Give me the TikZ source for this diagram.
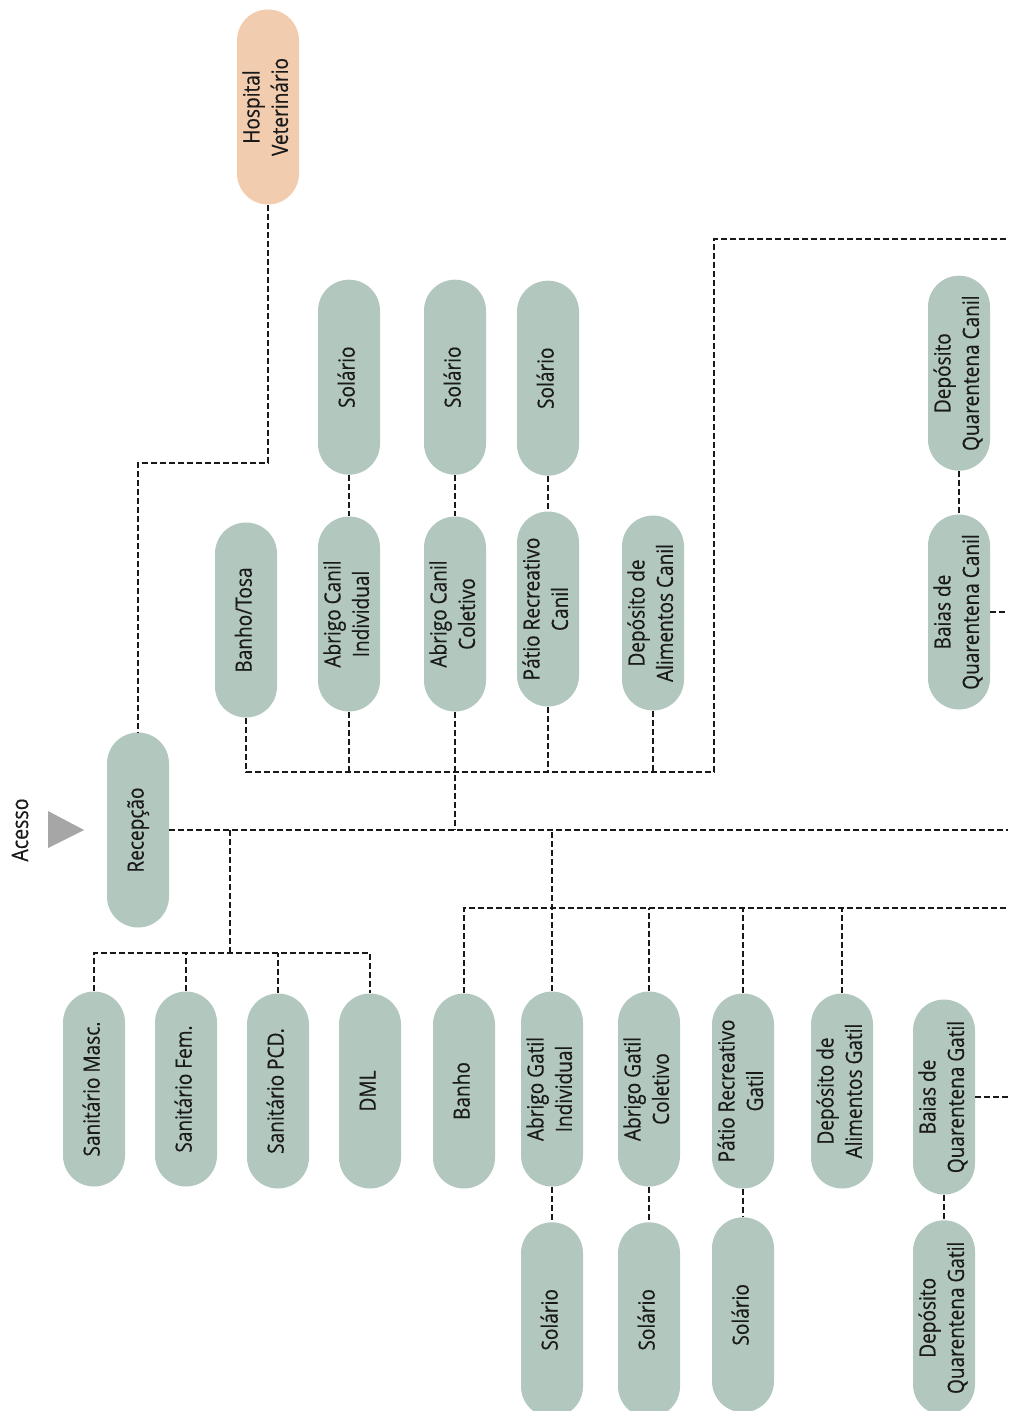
\documentclass[tikz,border=0pt]{standalone}
\usepackage{fontspec}
\usepackage{graphicx}
\usetikzlibrary{positioning}
\newfontfamily\roomfont{Open Sans}[FakeStretch=0.85,FakeBold=0.4]
\definecolor{sage}{HTML}{B2C7BE}
\definecolor{peach}{HTML}{F2CCAE}
\definecolor{ink}{HTML}{1A1A1A}
\definecolor{pointer}{HTML}{A6A6A6}
\newcommand{\roomtext}[1]{\rotatebox{90}{\begin{tabular}{@{}c@{}}#1\end{tabular}}}

\begin{document}
\begin{tikzpicture}[x=0.5pt,y=-0.5pt,
    room/.style={fill=sage,rounded corners=15.5pt,minimum width=31pt,
                 minimum height=97.5pt,inner sep=0pt,text=ink,
                 font=\roomfont\fontsize{11.2}{14.2}\selectfont},
    link/.style={draw=black!90,line width=0.75pt,dash pattern=on 3pt off 1.5pt}]
      \useasboundingbox (0,0) rectangle (1008,1411);
      % entrance
      \fill[pointer] (48,811) -- (84,830) -- (48,848) -- cycle;
      \node[rotate=90,text=ink,font=\roomfont\fontsize{11.5}{14}\selectfont] (acesso)
        at (20,830) {Acesso};
      \node[room] (recep) at (138,830) {\roomtext{Recepção}};
      \node[room,fill=peach] (hosp) at (268,107) {\roomtext{Hospital\\Veterinário}};
      % canil
      \node[room] (bt) at (246,620) {\roomtext{Banho/Tosa}};
      \node[room] (acind) at (349,614) {\roomtext{Abrigo Canil\\Individual}};
      \node[room] (accol) at (455,614) {\roomtext{Abrigo Canil\\Coletivo}};
      \node[room] (patc) at (548,609) {\roomtext{Pátio Recreativo\\Canil}};
      \node[room] (depc) at (653,613) {\roomtext{Depósito de\\Alimentos Canil}};
      \node[room,above=20.5pt of acind] (solc1) {\roomtext{Solário}};
      \node[room,above=20.5pt of accol] (solc2) {\roomtext{Solário}};
      \node[room,above=17.5pt of patc] (solc3) {\roomtext{Solário}};
      \node[room] (baiasqc) at (959,612) {\roomtext{Baias de\\Quarentena Canil}};
      \node[room,above=21.5pt of baiasqc] (depqc) {\roomtext{Depósito\\Quarentena Canil}};
      % sanitarios
      \node[room] (sanm) at (94,1089) {\roomtext{Sanitário Masc.}};
      \node[room] (sanf) at (186,1089) {\roomtext{Sanitário Fem.}};
      \node[room] (sanp) at (278,1091) {\roomtext{Sanitário PCD.}};
      \node[room] (dml) at (370,1091) {\roomtext{DML}};
      % gatil
      \node[room] (banho) at (464,1091) {\roomtext{Banho}};
      \node[room] (agind) at (552,1089) {\roomtext{Abrigo Gatil\\Individual}};
      \node[room] (agcol) at (649,1089) {\roomtext{Abrigo Gatil\\Coletivo}};
      \node[room] (patg) at (743,1091) {\roomtext{Pátio Recreativo\\Gatil}};
      \node[room] (depg) at (842,1091) {\roomtext{Depósito de\\Alimentos Gatil}};
      \node[room,below=17.5pt of agind] (solg1) {\roomtext{Solário}};
      \node[room,below=17.5pt of agcol] (solg2) {\roomtext{Solário}};
      \node[room,below=14pt of patg] (solg3) {\roomtext{Solário}};
      \node[room] (baiasqg) at (944,1097) {\roomtext{Baias de\\Quarentena Gatil}};
      \node[room,below=12.5pt of baiasqg] (depqg) {\roomtext{Depósito\\Quarentena Gatil}};
      % bus lines
      \coordinate (canilbus) at (0,772);
      \coordinate (gatilbus) at (0,908);
      \coordinate (sanfork) at (230,953);
      \coordinate (qcturn) at (714,772);
      \coordinate (qcend) at (1008,239);
      \coordinate (edge) at (1008,0);
      \draw[link] (hosp.south) -- ++(0,258) -| (recep.north);
      \draw[link] (recep.east) -- (recep.east -| edge);
      \draw[link] (sanfork |- recep.east) -- (sanfork);
      \draw[link] (sanm.north) |- (sanfork) -| (dml.north);
      \foreach \n in {sanf,sanp}
        \draw[link] (\n.north) -- (\n.north |- sanfork);
      \draw[link] (bt.south) |- (qcturn) |- (qcend);
      \foreach \n in {acind,patc,depc}
        \draw[link] (\n.south) -- (\n.south |- canilbus);
      \draw[link] (accol.south) -- (accol.south |- recep.east);
      \foreach \a/\b in {solc1/acind,solc2/accol,solc3/patc,depqc/baiasqc}
        \draw[link] (\a.south) -- (\b.north);
      \draw[link] (baiasqc.east) -- (baiasqc.east -| edge);
      \draw[link] (agind.north) -- (agind.north |- recep.east);
      \draw[link] (banho.north) |- (gatilbus -| edge);
      \foreach \n in {agcol,patg,depg}
        \draw[link] (\n.north) -- (\n.north |- gatilbus);
      \foreach \a/\b in {agind/solg1,agcol/solg2,patg/solg3,baiasqg/depqg}
        \draw[link] (\a.south) -- (\b.north);
      \draw[link] (baiasqg.east) -- (baiasqg.east -| edge);
    \end{tikzpicture}
\end{document}
